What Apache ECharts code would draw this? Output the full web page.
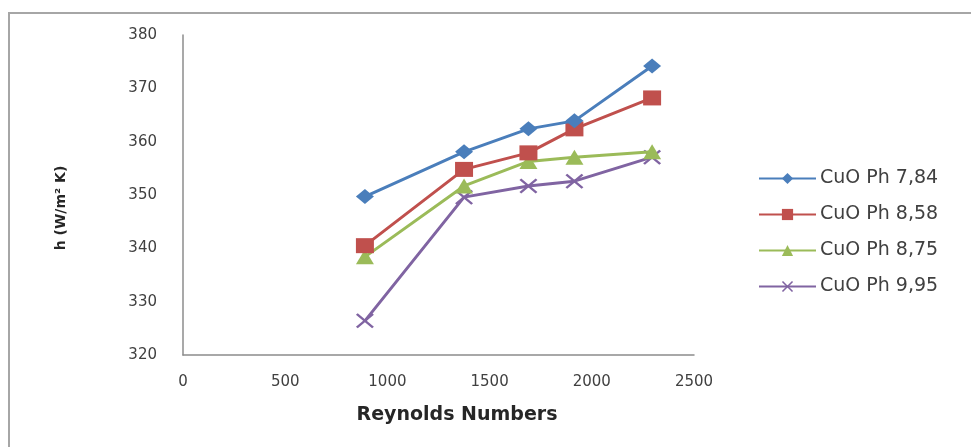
<!DOCTYPE html>
<html>
<head>
<meta charset="utf-8">
<script src="https://cdn.jsdelivr.net/npm/echarts@6/dist/echarts.min.js"></script>
<style>
html,body{margin:0;padding:0;background:#fff;}
#c{width:971px;height:447px;}
</style>
</head>
<body>
<div id="c"></div>
<script>
const reynolds = [890, 1375, 1690, 1915, 2295];
const ph784 = [349.7, 358.1, 362.4, 363.9, 374.2];
const ph858 = [340.5, 354.8, 357.9, 362.4, 368.2];
const ph875 = [338.4, 351.7, 356.3, 357.1, 358.1];
const ph995 = [326.4, 349.6, 351.7, 352.6, 357.1];
const seriesNames = ['CuO Ph 7,84', 'CuO Ph 8,58', 'CuO Ph 8,75', 'CuO Ph 9,95'];
const xTicks = [0, 500, 1000, 1500, 2000, 2500];
const yTicks = [320, 330, 340, 350, 360, 370, 380];
const xTitle = 'Reynolds Numbers';
const yTitle = 'h (W/m² K)';

const colors = ['#4A7EBB', '#C0504D', '#9BBB59', '#8064A2'];
const xPath = 'path://M0,1 L1,0 L5,4 L9,0 L10,1 L6,5 L10,9 L9,10 L5,6 L1,10 L0,9 L4,5 Z';
const symbols = ['diamond', 'rect', 'triangle', xPath];
const sizes = [[18, 15], [18, 15], [18, 15], [18, 15]];
const values = [ph784, ph858, ph875, ph995];
const font = '"DejaVu Sans", Verdana, sans-serif';

const chart = echarts.init(document.getElementById('c'));
chart.setOption({
  animation: false,
  backgroundColor: '#fff',
  graphic: [{
    type: 'rect',
    shape: {x: 9, y: 13, width: 980, height: 460},
    style: {fill: 'none', stroke: '#a6a6a6', lineWidth: 2},
    silent: true
  }, {
    type: 'text',
    x: 61, y: 208,
    rotation: Math.PI / 2,
    style: {text: yTitle, font: 'bold 14px "DejaVu Sans", sans-serif', fill: '#262626', align: 'center', verticalAlign: 'middle'},
    silent: true
  }, {
    type: 'text',
    x: 457, y: 415,
    style: {text: xTitle, font: 'bold 19px "DejaVu Sans", sans-serif', fill: '#262626', align: 'center', verticalAlign: 'middle'},
    silent: true
  }],
  grid: {left: 183, right: 277, top: 35, bottom: 92},
  legend: {
    orient: 'vertical',
    left: 758,
    top: 169,
    padding: 0,
    itemWidth: 57,
    itemHeight: 14,
    itemGap: 17,
    textStyle: {fontFamily: font, fontSize: 19, color: '#404040', padding: [0,0,0,-1]},
    data: seriesNames
  },
  xAxis: {
    type: 'value',
    min: xTicks[0], max: xTicks[xTicks.length-1], interval: 500,
    axisLine: {lineStyle: {color: '#8c8c8c', width: 1.5}},
    axisTick: {show: false},
    splitLine: {show: false},
    axisLabel: {fontFamily: font, fontSize: 15, color: '#404040', margin: 20, formatter: v => String(v)}
  },
  yAxis: {
    type: 'value',
    min: yTicks[0], max: yTicks[yTicks.length-1], interval: 10,
    axisLine: {show: true, lineStyle: {color: '#8c8c8c', width: 1.5}},
    axisTick: {show: false},
    splitLine: {show: false},
    axisLabel: {fontFamily: font, fontSize: 15, color: '#404040', margin: 26}
  },
  series: seriesNames.map((n, i) => ({
    name: n,
    type: 'line',
    data: reynolds.map((x, j) => [x, values[i][j]]),
    symbol: symbols[i],
    symbolSize: sizes[i],
    showAllSymbol: true,
    lineStyle: {color: colors[i], width: 3},
    itemStyle: {color: colors[i]},
    z: 10 - i
  }))
});
</script>
</body>
</html>
